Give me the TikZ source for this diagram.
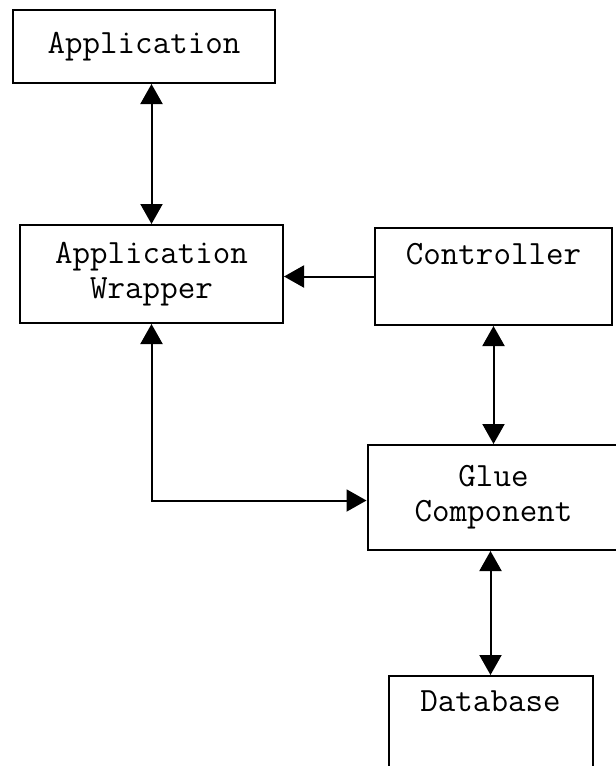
\documentclass[tikz,border=0pt]{standalone}
\usetikzlibrary{arrows.meta,positioning}

\begin{document}
\begin{tikzpicture}
    [x=1pt, y=1pt,
    on grid,
    >={Triangle[length=20pt,width=22pt]},
    block/.style = {shape=rectangle, draw, line width=2pt, align=center, inner sep=0pt,
      font=\ttfamily\fontsize{34}{35}\selectfont},
    post/.style = {->, line width=2pt},
    link/.style = {<->, line width=2pt}]

    \useasboundingbox (0,0) rectangle (616,-766);

    \node [block, minimum width=262pt, minimum height=73pt] (app) at (144,-46.5) {Application};
    \node [block, minimum width=263pt, minimum height=98pt] (wrapper) [below=227.5pt of app, xshift=7.5pt] {Application\\Wrapper};
    \node [block, minimum width=237pt, minimum height=97pt] (controller) [right=342pt of wrapper, yshift=-2.5pt] {Controller\\ \strut};
    \node [block, minimum width=252pt, minimum height=105pt] (glue) [below=221pt of controller] {Glue\\Component};
    \node [block, minimum width=204pt, minimum height=96pt] (database) [below=226.5pt of glue, xshift=-3pt] {Database\\ \strut};

    \draw [link] (app.south -| wrapper.north) -- (wrapper.north);
    \draw [post] (controller.west) -- (controller.west -| wrapper.east);
    \draw [link] (controller.south) -- (glue.north);
    \draw [link] (wrapper.south) |- ([yshift=-3pt]glue.west);
    \draw [link] (glue.south -| database.north) -- (database.north);
\end{tikzpicture}
\end{document}
